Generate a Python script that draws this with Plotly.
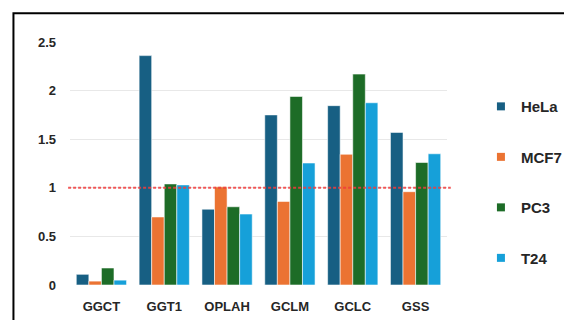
import plotly.graph_objects as go

genes = ["GGCT", "GGT1", "OPLAH", "GCLM", "GCLC", "GSS"]
hela = [0.11, 2.36, 0.78, 1.75, 1.845, 1.57]
mcf7 = [0.04, 0.70, 1.01, 0.86, 1.345, 0.96]
pc3 = [0.175, 1.04, 0.805, 1.94, 2.17, 1.26]
t24 = [0.05, 1.03, 0.73, 1.255, 1.875, 1.35]
series_names = ["HeLa", "MCF7", "PC3", "T24"]
colors = ["#175f83", "#eb7332", "#1d6c27", "#16a0d9"]
ref_value = 1
y_ticks = [0, 0.5, 1, 1.5, 2, 2.5]
y_tick_text = ["0", "0.5", "1", "1.5", "2", "2.5"]

fig = go.Figure()
for name, vals, col in zip(series_names, [hela, mcf7, pc3, t24], colors):
    fig.add_trace(go.Bar(
        x=genes, y=vals, name=name, legendgroup=name, showlegend=False,
        marker=dict(color=col, line=dict(color="rgba(255,255,255,0.7)", width=0.8)),
    ))
for name, col in zip(series_names, colors):
    fig.add_trace(go.Scatter(
        x=[None], y=[None], mode="markers", name=name, legendgroup=name,
        marker=dict(symbol="square", size=8, color=col),
    ))

fig.add_shape(type="line", xref="paper", yref="y", x0=-0.005, x1=1.01,
              y0=ref_value, y1=ref_value,
              line=dict(color="rgba(240,60,60,0.85)", width=2, dash="3px,2px"))
fig.add_shape(type="rect", xref="paper", yref="paper",
              x0=-0.150, x1=1.5, y0=-0.3, y1=1.118,
              line=dict(color="black", width=2), fillcolor="rgba(0,0,0,0)", layer="above")

font_main = dict(family="Liberation Sans, Arial, sans-serif", size=13, color="#262626", weight="bold")

fig.update_layout(
    width=564, height=320,
    margin=dict(l=70, r=117, t=42, b=35, autoexpand=False),
    paper_bgcolor="white", plot_bgcolor="white",
    barmode="group", bargap=0.2, bargroupgap=0.0,
    font=font_main,
    showlegend=True,
    legend=dict(x=1.09, y=0.802, xanchor="left", yanchor="top",
                font=dict(family="Liberation Sans, Arial, sans-serif", size=15, color="#262626", weight="bold"),
                tracegroupgap=28, itemwidth=30, bgcolor="rgba(0,0,0,0)"),
    xaxis=dict(showgrid=False, showline=False, ticks="", ticklabelstandoff=12,
               tickfont=font_main),
    yaxis=dict(range=[0, 2.5], tickvals=y_ticks, ticktext=y_tick_text,
               showgrid=True, gridcolor="#e8e8e8", gridwidth=1,
               zeroline=False, showline=False, ticks="", ticklabelstandoff=13,
               tickfont=font_main),
)

fig.write_html("out.html", config={"displayModeBar": False},
               post_script="document.body.style.margin='0px';")
